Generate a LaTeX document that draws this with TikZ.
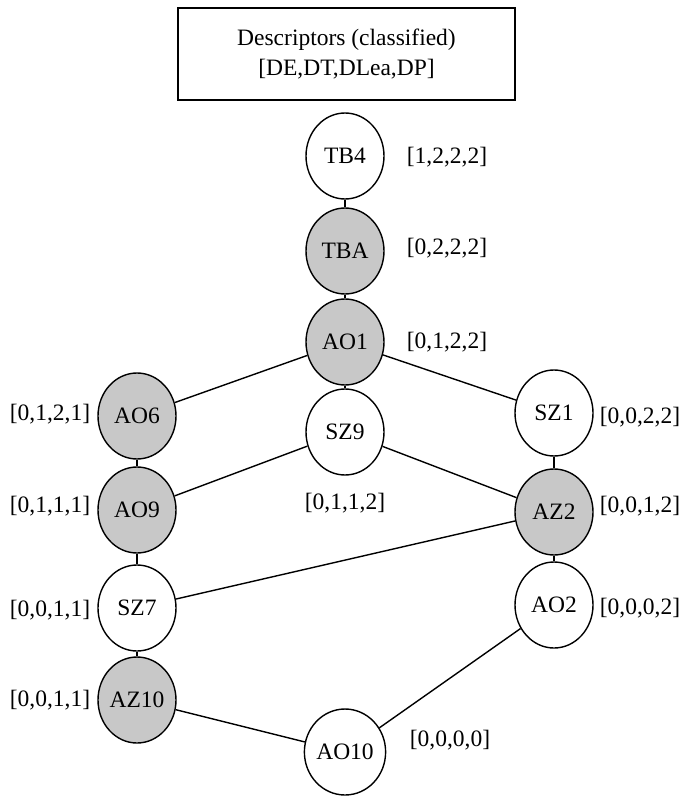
\documentclass[tikz,border=0pt]{standalone}
\usepackage{fontspec}
\setmainfont{Liberation Serif}
\usetikzlibrary{shapes.geometric}
\definecolor{nodegray}{RGB}{200,200,200}
\begin{document}
\begin{tikzpicture}[x=1pt,y=-1pt,
  every node/.style={font=\fontsize{23.5}{30}\selectfont},
  vert/.style={ellipse,draw,line width=1.4pt,minimum width=78pt,minimum height=86pt,inner sep=0pt},
  shaded/.style={vert,fill=nodegray},
  plain/.style={vert,fill=white},
  lab/.style={inner sep=0pt},
  edge/.style={line width=1.4pt}]
\useasboundingbox[fill=white] (0,0) rectangle (691,797);
\node[draw,line width=1.4pt,minimum width=337pt,minimum height=92pt,align=center,inner sep=0pt] (desc) at (346.5,54) {Descriptors (classified)\\{}[DE,DT,DLea,DP]};

\node[plain]  (TB4)  at (345,156) {TB4};
\node[shaded] (TBA)  at (345,251) {TBA};
\node[shaded] (AO1)  at (345,342) {AO1};
\node[plain]  (SZ9)  at (345,432) {SZ9};
\node[shaded] (AO6)  at (137,416) {AO6};
\node[plain]  (SZ1)  at (554,413) {SZ1};
\node[shaded] (AO9)  at (137,510) {AO9};
\node[shaded] (AZ2)  at (554,512) {AZ2};
\node[plain]  (SZ7)  at (137,608) {SZ7};
\node[plain]  (AO2)  at (554,605) {AO2};
\node[shaded] (AZ10) at (137,700) {AZ10};
\node[plain]  (AO10) at (345,752) {AO10};

\node[lab] (lTB4)  at (447,157) {[1,2,2,2]};
\node[lab] (lTBA)  at (447,248) {[0,2,2,2]};
\node[lab] (lAO1)  at (447,342) {[0,1,2,2]};
\node[lab] (lAO6)  at (50,414) {[0,1,2,1]};
\node[lab] (lSZ1)  at (640,417) {[0,0,2,2]};
\node[lab] (lAO9)  at (50,506) {[0,1,1,1]};
\node[lab] (lSZ9)  at (345,503) {[0,1,1,2]};
\node[lab] (lAZ2)  at (640,506) {[0,0,1,2]};
\node[lab] (lSZ7)  at (50,610) {[0,0,1,1]};
\node[lab] (lAO2)  at (640,608) {[0,0,0,2]};
\node[lab] (lAZ10) at (50,700) {[0,0,1,1]};
\node[lab] (lAO10) at (450,740) {[0,0,0,0]};

\draw[edge] (TB4) -- (TBA);
\draw[edge] (TBA) -- (AO1);
\draw[edge] (AO1) -- (AO6);
\draw[edge] (AO1) -- (SZ9);
\draw[edge] (AO1) -- (SZ1);
\draw[edge] (AO6) -- (AO9);
\draw[edge] (SZ9) -- (AO9);
\draw[edge] (SZ9) -- (AZ2);
\draw[edge] (SZ1) -- (AZ2);
\draw[edge] (AO9) -- (SZ7);
\draw[edge] (AZ2) -- (SZ7);
\draw[edge] (AZ2) -- (AO2);
\draw[edge] (SZ7) -- (AZ10);
\draw[edge] (AZ10) -- (AO10);
\draw[edge] (AO2) -- (AO10);
\end{tikzpicture}
\end{document}
